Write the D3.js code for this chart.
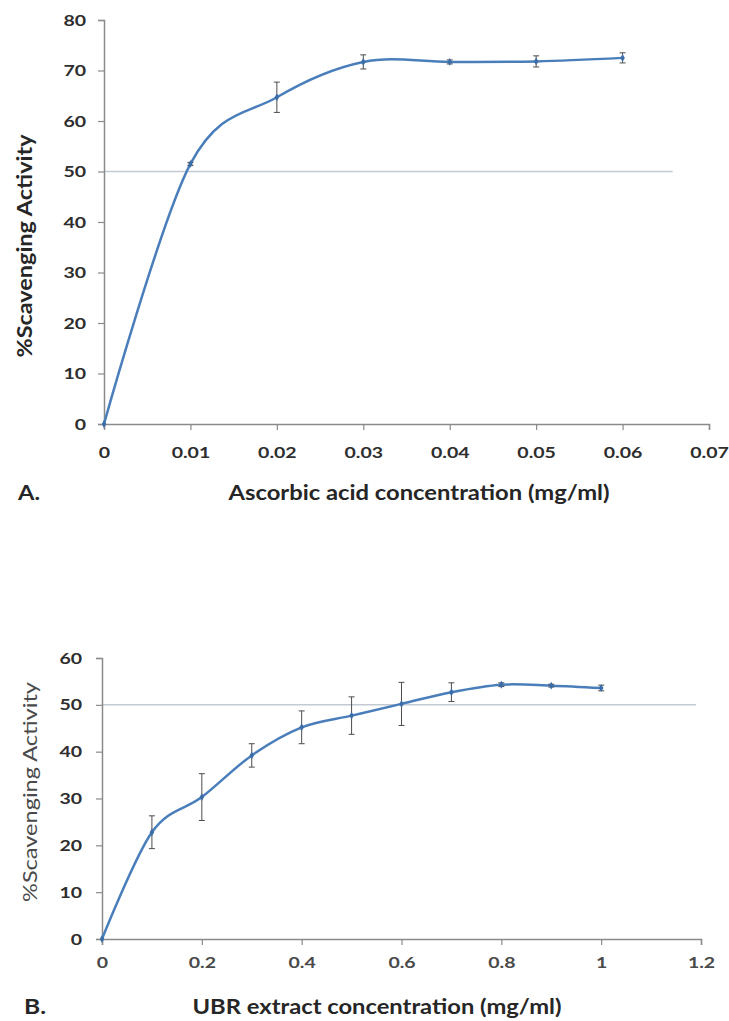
<!DOCTYPE html>
<html>
<head>
<meta charset="utf-8">
<script src="https://cdn.jsdelivr.net/npm/d3@7"></script>
<style>
  html, body { margin: 0; padding: 0; background: #ffffff; }
  svg { display: block; }
  text { font-family: Lato, "Open Sans", sans-serif; }
</style>
</head>
<body>
<svg id="chart" width="729" height="1021"></svg>
<script>
// ---------- Data ----------
// Panel A: Ascorbic acid
const ascorbicConc = [0, 0.01, 0.02, 0.03, 0.04, 0.05, 0.06];
const ascorbicActivity = [0, 51.5, 64.7, 71.7, 71.7, 71.8, 72.5];
const ascorbicError = [0, 0.3, 3.0, 1.4, 0.4, 1.1, 1.0];
const ascorbicXTicks = [0, 0.01, 0.02, 0.03, 0.04, 0.05, 0.06, 0.07];
const ascorbicXTickLabels = ["0", "0.01", "0.02", "0.03", "0.04", "0.05", "0.06", "0.07"];
const ascorbicYTicks = [0, 10, 20, 30, 40, 50, 60, 70, 80];
const ascorbicRefLineX = [0, 0.0658];

// Panel B: UBR extract
const ubrConc = [0, 0.1, 0.2, 0.3, 0.4, 0.5, 0.6, 0.7, 0.8, 0.9, 1.0];
const ubrActivity = [0, 22.8, 30.3, 39.2, 45.2, 47.7, 50.2, 52.7, 54.3, 54.1, 53.6];
const ubrError = [0, 3.5, 5.0, 2.5, 3.5, 4.0, 4.6, 2.0, 0.4, 0.3, 0.6];
const ubrXTicks = [0, 0.2, 0.4, 0.6, 0.8, 1.0, 1.2];
const ubrXTickLabels = ["0", "0.2", "0.4", "0.6", "0.8", "1", "1.2"];
const ubrYTicks = [0, 10, 20, 30, 40, 50, 60];
const ubrRefLineX = [0, 1.19];

const referenceLevel = 50;

// ---------- Drawing ----------
const svg = d3.select("#chart");
const SX = 1.22; // horizontal stretch of tick label glyphs

function drawPanel(cfg) {
  const g = svg.append("g");
  const x = d3.scaleLinear().domain(cfg.xDomain).range([cfg.left, cfg.right]);
  const y = d3.scaleLinear().domain(cfg.yDomain).range([cfg.bottom, cfg.top]);

  // Reference line at 50%
  g.append("line")
    .attr("x1", x(cfg.refX[0])).attr("x2", x(cfg.refX[1]))
    .attr("y1", y(referenceLevel)).attr("y2", y(referenceLevel))
    .attr("stroke", "#c3cad3").attr("stroke-width", 1.5);

  // Y axis
  const yAxis = d3.axisLeft(y).tickValues(cfg.yTicks).tickSize(6).tickPadding(cfg.yPad)
    .tickFormat(d3.format("d"));
  const ya = g.append("g").attr("transform", `translate(${cfg.left},0)`).call(yAxis);
  ya.select(".domain").attr("stroke", "#8a8a8a").attr("stroke-width", 1.5);
  ya.selectAll(".tick line").attr("stroke", "#8a8a8a").attr("stroke-width", 1.2);
  ya.selectAll(".tick text")
    .attr("fill", "#2e2e2e").attr("font-size", 16).attr("font-weight", "bold")
    .attr("x", -(6 + cfg.yPad) / SX)
    .attr("transform", `scale(${SX},1)`)
    .style("font-family", "Lato, sans-serif");

  // X axis
  const xAxis = d3.axisBottom(x).tickValues(cfg.xTicks).tickSize(6).tickPadding(cfg.xPad)
    .tickFormat((d, i) => cfg.xTickLabels[i]);
  const xa = g.append("g").attr("transform", `translate(0,${cfg.bottom})`).call(xAxis);
  xa.select(".domain").attr("stroke", "#8a8a8a").attr("stroke-width", 1.5);
  xa.selectAll(".tick line").attr("stroke", "#8a8a8a").attr("stroke-width", 1.2);
  xa.selectAll(".tick text")
    .attr("fill", cfg.xTickColor).attr("font-size", 16).attr("font-weight", "bold")
    .attr("transform", `scale(${SX},1)`)
    .style("font-family", "Lato, sans-serif");

  const pts = cfg.xs.map((xv, i) => ({ x: xv, y: cfg.ys[i], e: cfg.errs[i] }));

  // Smoothed line
  const line = d3.line().x(d => x(d.x)).y(d => y(d.y)).curve(d3.curveCatmullRom.alpha(0));
  g.append("path").datum(pts)
    .attr("d", line)
    .attr("fill", "none")
    .attr("stroke", "#4a7ebb")
    .attr("stroke-width", 2.5);

  // Error bars
  const eb = g.append("g").attr("stroke", "#4d4d4d").attr("stroke-width", 1);
  pts.filter(d => d.e > 0).forEach(d => {
    const cx = x(d.x);
    eb.append("line").attr("x1", cx).attr("x2", cx).attr("y1", y(d.y + d.e)).attr("y2", y(d.y - d.e));
    eb.append("line").attr("x1", cx - 3).attr("x2", cx + 3).attr("y1", y(d.y + d.e)).attr("y2", y(d.y + d.e));
    eb.append("line").attr("x1", cx - 3).attr("x2", cx + 3).attr("y1", y(d.y - d.e)).attr("y2", y(d.y - d.e));
  });

  // Markers
  g.append("g").selectAll("path").data(pts).join("path")
    .attr("transform", d => `translate(${x(d.x)},${y(d.y)})`)
    .attr("d", d3.symbol(d3.symbolDiamond, 18))
    .attr("fill", "#3d6da8");

  // Y axis title
  g.append("text")
    .attr("transform", `translate(${cfg.yTitleX},${cfg.yTitleY}) rotate(-90)`)
    .attr("text-anchor", "middle")
    .attr("dominant-baseline", "central")
    .attr("font-size", 20)
    .attr("font-weight", cfg.yTitleWeight)
    .attr("fill", cfg.yTitleColor)
    .attr("textLength", cfg.yTitleLen)
    .attr("lengthAdjust", "spacingAndGlyphs")
    .text("%Scavenging Activity");

  // X axis title
  g.append("text")
    .attr("x", cfg.xTitleX).attr("y", cfg.xTitleY)
    .attr("text-anchor", "middle")
    .attr("dominant-baseline", "central")
    .attr("font-size", 20)
    .attr("font-weight", "bold")
    .attr("fill", "#262626")
    .attr("textLength", cfg.xTitleLen)
    .attr("lengthAdjust", "spacingAndGlyphs")
    .text(cfg.xTitle);

  // Panel letter
  g.append("text")
    .attr("x", cfg.letterX).attr("y", cfg.xTitleY)
    .attr("dominant-baseline", "central")
    .attr("font-size", 20)
    .attr("font-weight", "bold")
    .attr("fill", "#262626")
    .attr("textLength", 22)
    .attr("lengthAdjust", "spacingAndGlyphs")
    .text(cfg.letter);
}

drawPanel({
  xDomain: [0, 0.07], yDomain: [0, 80],
  left: 104, right: 709, top: 20, bottom: 424,
  xTicks: ascorbicXTicks, xTickLabels: ascorbicXTickLabels, yTicks: ascorbicYTicks,
  xs: ascorbicConc, ys: ascorbicActivity, errs: ascorbicError,
  refX: ascorbicRefLineX,
  xTickColor: "#2e2e2e", xPad: 17, yPad: 12,
  yTitleX: 24, yTitleY: 246, yTitleLen: 223, yTitleWeight: "bold", yTitleColor: "#262626",
  xTitle: "Ascorbic acid concentration (mg/ml)", xTitleX: 419, xTitleY: 492, xTitleLen: 381,
  letter: "A.", letterX: 18
});

drawPanel({
  xDomain: [0, 1.2], yDomain: [0, 60],
  left: 102, right: 701, top: 658, bottom: 939,
  xTicks: ubrXTicks, xTickLabels: ubrXTickLabels, yTicks: ubrYTicks,
  xs: ubrConc, ys: ubrActivity, errs: ubrError,
  refX: ubrRefLineX,
  xTickColor: "#4a4a4a", xPad: 12, yPad: 14,
  yTitleX: 29, yTitleY: 792, yTitleLen: 220, yTitleWeight: "normal", yTitleColor: "#4a4a4a",
  xTitle: "UBR extract concentration (mg/ml)", xTitleX: 377, xTitleY: 1006, xTitleLen: 369,
  letter: "B.", letterX: 24
});
</script>
</body>
</html>
